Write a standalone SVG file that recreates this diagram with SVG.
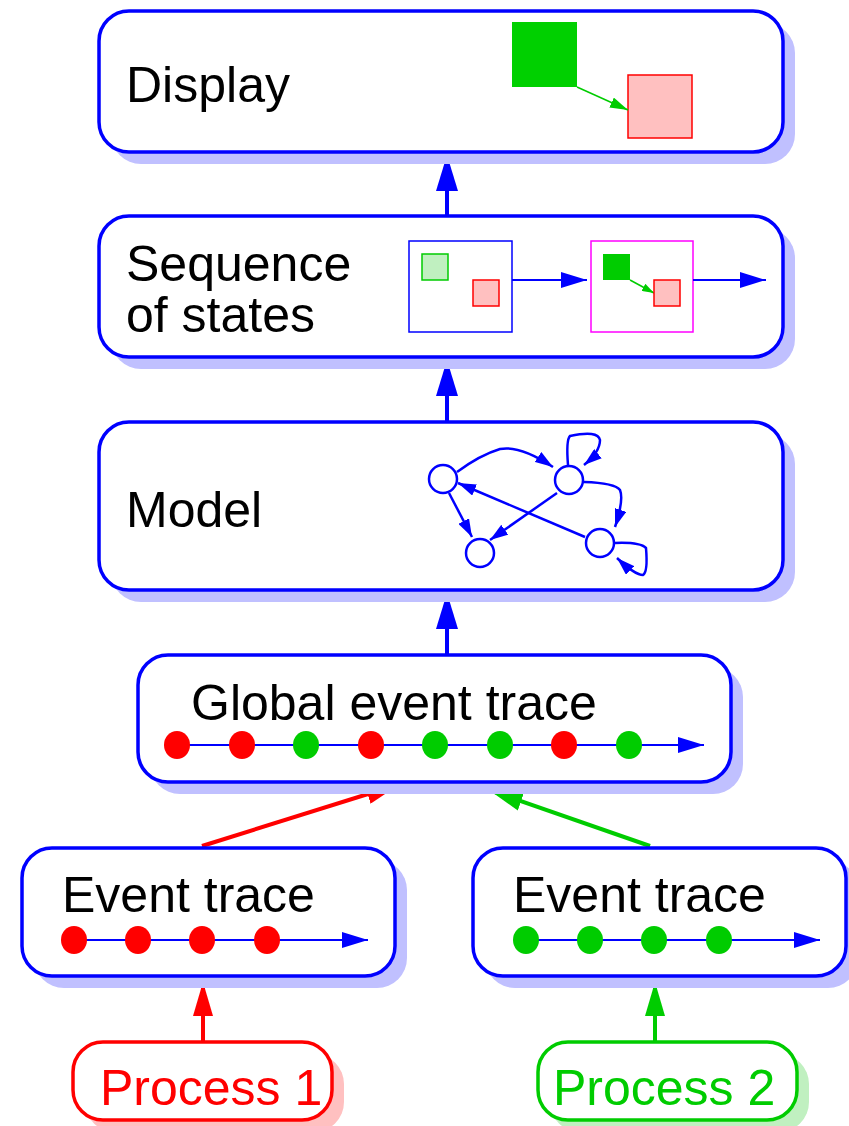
<svg xmlns="http://www.w3.org/2000/svg" width="849" height="1126" viewBox="0 0 849 1126">
<style>
.box{fill:#fff;stroke:#0000ff;stroke-width:3.5}
.sh{fill:#c0c0ff}
.t{font-family:"Liberation Sans",Arial,sans-serif;font-size:50px;fill:#000}
.conn{stroke-width:4;fill:none}
.tl{stroke:#0000ff;stroke-width:2;fill:none}
.g{stroke:#0000ff;stroke-width:2.5;fill:none}
</style>
<defs>
<marker id="ab" viewBox="0 0 36 22" refX="36" refY="11" markerWidth="36" markerHeight="22" markerUnits="userSpaceOnUse" orient="auto"><path d="M0,0L36,11L0,22z" fill="#0000ff"/></marker>
<marker id="ar" viewBox="0 0 34 20" refX="34" refY="10" markerWidth="34" markerHeight="20" markerUnits="userSpaceOnUse" orient="auto"><path d="M0,0L34,10L0,20z" fill="#ff0000"/></marker>
<marker id="ag" viewBox="0 0 34 20" refX="34" refY="10" markerWidth="34" markerHeight="20" markerUnits="userSpaceOnUse" orient="auto"><path d="M0,0L34,10L0,20z" fill="#00cc00"/></marker>
<marker id="at" viewBox="0 0 26 16" refX="26" refY="8" markerWidth="26" markerHeight="16" markerUnits="userSpaceOnUse" orient="auto"><path d="M0,0L26,8L0,16z" fill="#0000ff"/></marker>
<marker id="as" viewBox="0 0 18 12" refX="18" refY="6" markerWidth="18" markerHeight="12" markerUnits="userSpaceOnUse" orient="auto"><path d="M0,0L18,6L0,12z" fill="#0000ff"/></marker>
<marker id="asg" viewBox="0 0 18 11" refX="18" refY="5.5" markerWidth="18" markerHeight="11" markerUnits="userSpaceOnUse" orient="auto"><path d="M0,0L18,5.5L0,11z" fill="#00cc00"/></marker>
<marker id="asg2" viewBox="0 0 12 8" refX="12" refY="4" markerWidth="12" markerHeight="8" markerUnits="userSpaceOnUse" orient="auto"><path d="M0,0L12,4L0,8z" fill="#00cc00"/></marker>
</defs>

<g id="connectors">
<line class="conn" x1="447" y1="215" x2="447" y2="155" stroke="#0000ff" marker-end="url(#ab)"/>
<line class="conn" x1="447" y1="421" x2="447" y2="360" stroke="#0000ff" marker-end="url(#ab)"/>
<line class="conn" x1="447" y1="654" x2="447" y2="593" stroke="#0000ff" marker-end="url(#ab)"/>
<line class="conn" x1="202" y1="846" x2="400" y2="784" stroke="#ff0000" marker-end="url(#ar)"/>
<line class="conn" x1="650" y1="846" x2="489" y2="790" stroke="#00cc00" marker-end="url(#ag)"/>
<line class="conn" x1="203" y1="1042" x2="203" y2="982" stroke="#ff0000" marker-end="url(#ar)"/>
<line class="conn" x1="655" y1="1042" x2="655" y2="982" stroke="#00cc00" marker-end="url(#ag)"/>
</g>

<g id="display">
<rect class="sh" x="111" y="23" width="684" height="141" rx="30"/>
<rect class="box" x="99" y="11" width="684" height="141" rx="30"/>
<text class="t" x="126" y="102">Display</text>
<rect x="512" y="22" width="65" height="65" fill="#00d000"/>
<rect x="628" y="75" width="64" height="63" fill="#ffc0c0" stroke="#ff0000" stroke-width="1.5"/>
<line x1="577" y1="87" x2="628" y2="110" stroke="#00cc00" stroke-width="1.5" marker-end="url(#asg)"/>
</g>

<g id="sequence">
<rect class="sh" x="111" y="228" width="684" height="141" rx="30"/>
<rect class="box" x="99" y="216" width="684" height="141" rx="30"/>
<text class="t" x="126" y="281">Sequence</text>
<text class="t" x="126" y="332">of states</text>
<rect x="409" y="241" width="103" height="91" fill="none" stroke="#0000ff" stroke-width="1.5"/>
<rect x="422" y="254" width="26" height="26" fill="#c0f0c0" stroke="#00cc00" stroke-width="1.5"/>
<rect x="473" y="280" width="26" height="26" fill="#ffc0c0" stroke="#ff0000" stroke-width="1.5"/>
<line class="tl" x1="512" y1="280" x2="587" y2="280" marker-end="url(#at)"/>
<rect x="591" y="241" width="102" height="91" fill="none" stroke="#ff00ff" stroke-width="1.5"/>
<rect x="603" y="254" width="27" height="26" fill="#00cc00"/>
<line x1="630" y1="280" x2="654" y2="293" stroke="#00cc00" stroke-width="1.5" marker-end="url(#asg2)"/>
<rect x="654" y="280" width="26" height="26" fill="#ffc0c0" stroke="#ff0000" stroke-width="1.5"/>
<line class="tl" x1="693" y1="280" x2="766" y2="280" marker-end="url(#at)"/>
</g>

<g id="model">
<rect class="sh" x="111" y="434" width="684" height="168" rx="30"/>
<rect class="box" x="99" y="422" width="684" height="168" rx="30"/>
<text class="t" x="126" y="527">Model</text>
<circle class="g" cx="443" cy="479" r="14"/>
<circle class="g" cx="569" cy="480" r="14"/>
<circle class="g" cx="480" cy="553" r="14"/>
<circle class="g" cx="600" cy="543" r="14"/>
<path class="g" d="M457,472 Q480,455 500,449 Q520,445 553,467" marker-end="url(#as)"/>
<path class="g" d="M568,465 Q566,440 570,436 Q598,430 600,440 Q600,452 584,465" marker-end="url(#as)"/>
<path class="g" d="M584,482 Q615,483 620,490 Q624,500 615,527" marker-end="url(#as)"/>
<path class="g" d="M557,493 L490,540" marker-end="url(#as)"/>
<path class="g" d="M585,537 L458,483" marker-end="url(#as)"/>
<path class="g" d="M449,493 L472,537" marker-end="url(#as)"/>
<path class="g" d="M615,543 Q640,542 646,548 Q648,572 643,575 Q635,575 617,558" marker-end="url(#as)"/>
</g>

<g id="global">
<rect class="sh" x="150" y="667" width="593" height="127" rx="30"/>
<rect class="box" x="138" y="655" width="593" height="127" rx="30"/>
<text class="t" x="191" y="720">Global event trace</text>
<line class="tl" x1="177" y1="745" x2="704" y2="745" marker-end="url(#at)"/>
<ellipse cx="177" cy="745" rx="13" ry="14" fill="#ff0000"/>
<ellipse cx="242" cy="745" rx="13" ry="14" fill="#ff0000"/>
<ellipse cx="306" cy="745" rx="13" ry="14" fill="#00cc00"/>
<ellipse cx="371" cy="745" rx="13" ry="14" fill="#ff0000"/>
<ellipse cx="435" cy="745" rx="13" ry="14" fill="#00cc00"/>
<ellipse cx="500" cy="745" rx="13" ry="14" fill="#00cc00"/>
<ellipse cx="564" cy="745" rx="13" ry="14" fill="#ff0000"/>
<ellipse cx="629" cy="745" rx="13" ry="14" fill="#00cc00"/>
</g>

<g id="trace1">
<rect class="sh" x="34" y="860" width="373" height="128" rx="30"/>
<rect class="box" x="22" y="848" width="373" height="128" rx="30"/>
<text class="t" x="62" y="912">Event trace</text>
<line class="tl" x1="73" y1="940" x2="368" y2="940" marker-end="url(#at)"/>
<ellipse cx="74" cy="940" rx="13" ry="14" fill="#ff0000"/>
<ellipse cx="138" cy="940" rx="13" ry="14" fill="#ff0000"/>
<ellipse cx="202" cy="940" rx="13" ry="14" fill="#ff0000"/>
<ellipse cx="267" cy="940" rx="13" ry="14" fill="#ff0000"/>
</g>

<g id="trace2">
<rect class="sh" x="485" y="860" width="373" height="128" rx="30"/>
<rect class="box" x="473" y="848" width="373" height="128" rx="30"/>
<text class="t" x="513" y="912">Event trace</text>
<line class="tl" x1="525" y1="940" x2="820" y2="940" marker-end="url(#at)"/>
<ellipse cx="526" cy="940" rx="13" ry="14" fill="#00cc00"/>
<ellipse cx="590" cy="940" rx="13" ry="14" fill="#00cc00"/>
<ellipse cx="654" cy="940" rx="13" ry="14" fill="#00cc00"/>
<ellipse cx="719" cy="940" rx="13" ry="14" fill="#00cc00"/>
</g>

<g id="process1">
<rect x="85" y="1054" width="259" height="78" rx="30" fill="#ffc0c0"/>
<rect x="73" y="1042" width="259" height="78" rx="30" fill="#fff" stroke="#ff0000" stroke-width="3.5"/>
<text class="t" x="100" y="1105" style="fill:#ff0000">Process 1</text>
</g>

<g id="process2">
<rect x="550" y="1054" width="259" height="78" rx="30" fill="#c0f0c0"/>
<rect x="538" y="1042" width="259" height="78" rx="30" fill="#fff" stroke="#00cc00" stroke-width="3.5"/>
<text class="t" x="553" y="1105" style="fill:#00cc00">Process 2</text>
</g>
</svg>
